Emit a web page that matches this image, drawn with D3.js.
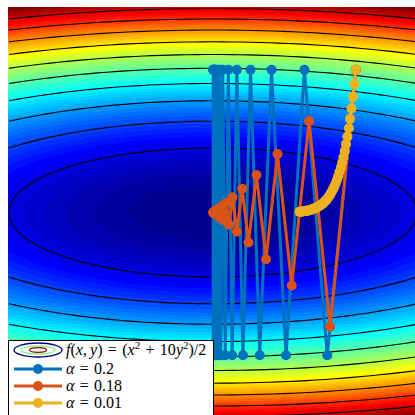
<!DOCTYPE html>
<html lang="en">
<head>
  <meta charset="UTF-8">
  <title>Gradient descent on a quadratic</title>
  <script src="https://d3js.org/d3.v7.min.js"></script>
  <style>
    body { margin: 0; background: #fff; }
    #chart { width: 415px; height: 415px; overflow: hidden; }
    .leg text { font-family: "Liberation Serif", "DejaVu Serif", serif; font-size: 16px; fill: #000; }
  </style>
</head>
<body>
  <div id="chart"></div>
  <script>
    // contour levels of f(x,y) = (x^2 + 10y^2)/2
    const contourLevels = [0.5, 1, 1.5, 2, 2.5, 3, 3.5, 4, 4.5, 5];

    // iterates (start at 0.7, 0.7)
    const blueX = [0.700, 0.560, 0.448, 0.358, 0.287, 0.229, 0.184, 0.147, 0.117, 0.094, 0.075, 0.060, 0.048, 0.038, 0.031, 0.025,
                   0.020, 0.016, 0.013, 0.010, 0.008, 0.006, 0.005, 0.004, 0.003, 0.003, 0.002, 0.002, 0.001, 0.001, 0.001];
    const blueY = [0.7, -0.7, 0.7, -0.7, 0.7, -0.7, 0.7, -0.7, 0.7, -0.7, 0.7, -0.7, 0.7, -0.7, 0.7, -0.7,
                   0.7, -0.7, 0.7, -0.7, 0.7, -0.7, 0.7, -0.7, 0.7, -0.7, 0.7, -0.7, 0.7, -0.7, 0.7];

    const orangeX = [0.700, 0.574, 0.471, 0.386, 0.316, 0.260, 0.213, 0.174, 0.143, 0.117, 0.096, 0.079, 0.065, 0.053, 0.044, 0.036,
                     0.029, 0.024, 0.020, 0.016, 0.013, 0.011, 0.009, 0.007, 0.006, 0.005, 0.004, 0.003, 0.003, 0.002, 0.002];
    const orangeY = [0.700, -0.560, 0.448, -0.358, 0.287, -0.229, 0.184, -0.147, 0.117, -0.094, 0.075, -0.060, 0.048, -0.038, 0.031, -0.025,
                     0.020, -0.016, 0.013, -0.010, 0.008, -0.006, 0.005, -0.004, 0.003, -0.003, 0.002, -0.002, 0.001, -0.001, 0.001];

    const yellowX = [0.700, 0.693, 0.686, 0.679, 0.672, 0.666, 0.659, 0.652, 0.646, 0.639, 0.633, 0.627, 0.620, 0.614, 0.608, 0.602,
                     0.596, 0.590, 0.584, 0.578, 0.573, 0.567, 0.561, 0.556, 0.550, 0.544, 0.539, 0.534, 0.528, 0.523, 0.518, 0.513,
                     0.507, 0.502, 0.497, 0.492, 0.487, 0.483, 0.478, 0.473, 0.468, 0.464, 0.459, 0.454, 0.450, 0.445, 0.441, 0.436,
                     0.432, 0.428, 0.424];
    const yellowY = [0.700, 0.630, 0.567, 0.510, 0.459, 0.413, 0.372, 0.335, 0.301, 0.271, 0.244, 0.220, 0.198, 0.178, 0.160, 0.144,
                     0.130, 0.117, 0.105, 0.095, 0.085, 0.077, 0.069, 0.062, 0.056, 0.050, 0.045, 0.041, 0.037, 0.033, 0.030, 0.027,
                     0.024, 0.022, 0.019, 0.018, 0.016, 0.014, 0.013, 0.011, 0.010, 0.009, 0.008, 0.008, 0.007, 0.006, 0.005, 0.005,
                     0.004, 0.004, 0.004];

    const seriesValues = ["0.2", "0.18", "0.01"];
    const seriesColors = ["#0072BD", "#D95319", "#EDB120"];

    const width = 415, height = 415;
    const f = (x, y) => (x * x + 10 * y * y) / 2;
    const fMax = 5.5;

    const xScale = d3.scaleLinear().domain([-1, 1]).range([9, 417]);
    const yScale = d3.scaleLinear().domain([-1, 1]).range([416.5, 8.5]);

    const svg = d3.select("#chart").append("svg")
      .attr("width", width)
      .attr("height", height);

    // MATLAB jet(64)
    function jet(i) {
      const u = j => (j < 1 || j > 47) ? 0 : (j <= 16 ? j / 16 : (j <= 31 ? 1 : (48 - j) / 16));
      return [u(i - 24), u(i - 8), u(i + 8)];
    }

    // background image
    const ix0 = 8, iy0 = 7, iw = 412, ih = 412;
    const canvas = document.createElement("canvas");
    canvas.width = iw; canvas.height = ih;
    const ctx = canvas.getContext("2d");
    const img = ctx.createImageData(iw, ih);
    for (let py = 0; py < ih; py++) {
      for (let px = 0; px < iw; px++) {
        const X = xScale.invert(ix0 + px + 0.5);
        const Y = yScale.invert(iy0 + py + 0.5);
        let idx = Math.floor(f(X, Y) / fMax * 64) + 1;
        if (idx > 64) idx = 64;
        const c = jet(idx);
        const k = (py * iw + px) * 4;
        img.data[k] = Math.round(c[0] * 255);
        img.data[k + 1] = Math.round(c[1] * 255);
        img.data[k + 2] = Math.round(c[2] * 255);
        img.data[k + 3] = 255;
      }
    }
    ctx.putImageData(img, 0, 0);
    svg.append("image")
      .attr("x", ix0).attr("y", iy0)
      .attr("width", iw).attr("height", ih)
      .attr("href", canvas.toDataURL());

    // contour lines (ellipses), clipped to the data box
    svg.append("clipPath").attr("id", "box")
      .append("rect")
      .attr("x", xScale(-1)).attr("y", yScale(1))
      .attr("width", xScale(1) - xScale(-1))
      .attr("height", yScale(-1) - yScale(1));

    const ts = d3.range(0, 360, 1).map(d => d * Math.PI / 180);
    const ellipse = d3.line().curve(d3.curveLinearClosed)
      .x(d => xScale(d[0])).y(d => yScale(d[1]));

    svg.append("g").attr("clip-path", "url(#box)")
      .selectAll("path")
      .data(contourLevels)
      .enter()
      .append("path")
      .attr("d", c => ellipse(ts.map(t => [Math.sqrt(2 * c) * Math.cos(t), Math.sqrt(2 * c / 10) * Math.sin(t)])))
      .attr("fill", "none")
      .attr("stroke", "#000")
      .attr("stroke-width", 1.1);

    // descent paths
    const paths = [
      blueX.map((x, i) => [x, blueY[i]]),
      orangeX.map((x, i) => [x, orangeY[i]]),
      yellowX.map((x, i) => [x, yellowY[i]])
    ];
    const line = d3.line().x(d => xScale(d[0])).y(d => yScale(d[1]));

    paths.forEach((pts, s) => {
      const g = svg.append("g");
      g.append("path")
        .attr("d", line(pts))
        .attr("fill", "none")
        .attr("stroke", seriesColors[s])
        .attr("stroke-width", 3)
        .attr("stroke-linejoin", "round");
      g.selectAll("circle")
        .data(pts)
        .enter()
        .append("circle")
        .attr("cx", d => xScale(d[0]))
        .attr("cy", d => yScale(d[1]))
        .attr("r", 5)
        .attr("fill", seriesColors[s]);
    });

    // legend
    const leg = svg.append("g").attr("class", "leg");
    leg.append("rect")
      .attr("x", 8.5).attr("y", 340.5)
      .attr("width", 205).attr("height", 80)
      .attr("fill", "#fff")
      .attr("stroke", "#000")
      .attr("stroke-width", 1);

    const rowY = [350, 369, 386, 403];
    const sp = "\u2004";

    // contour icon
    [[24, 7, "#00008f"], [17, 4, "#7fff7f"], [8.5, 2.3, "#a00000"]].forEach(e => {
      leg.append("ellipse")
        .attr("cx", 38).attr("cy", rowY[0])
        .attr("rx", e[0]).attr("ry", e[1])
        .attr("fill", "none")
        .attr("stroke", e[2])
        .attr("stroke-width", 1.3);
    });

    const t0 = leg.append("text").attr("x", 66).attr("y", rowY[0] + 5);
    const parts = [["f", true], ["(", false], ["x", true], [",\u2009", false], ["y", true], [")" + sp + "=" + sp + "(", false],
                   ["x", true], ["2", false, true], [sp + "+" + sp + "10", false, false, true], ["y", true],
                   ["2", false, true], [")/2", false, false, true]];
    parts.forEach(p => {
      const span = t0.append("tspan").text(p[0]);
      if (p[1]) span.attr("font-style", "italic");
      if (p[2]) span.attr("font-size", "11px").attr("dy", -6);
      if (p[3]) span.attr("dy", 6);
    });

    seriesValues.forEach((v, i) => {
      const y = rowY[i + 1];
      leg.append("line")
        .attr("x1", 14).attr("x2", 62)
        .attr("y1", y).attr("y2", y)
        .attr("stroke", seriesColors[i])
        .attr("stroke-width", 3);
      leg.append("circle")
        .attr("cx", 38).attr("cy", y).attr("r", 5)
        .attr("fill", seriesColors[i]);
      const t = leg.append("text").attr("x", 66).attr("y", y + 5);
      t.append("tspan").attr("font-style", "italic").text("\u03b1");
      t.append("tspan").text(sp + "=" + sp + v);
    });
  </script>
</body>
</html>
